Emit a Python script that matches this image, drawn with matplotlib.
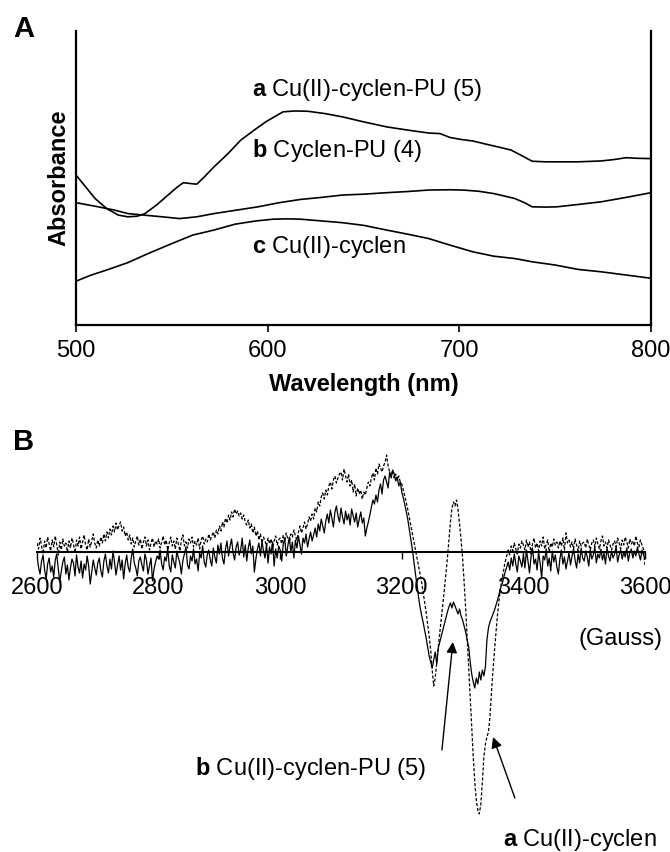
import numpy as np
import matplotlib
matplotlib.use("Agg")
import matplotlib.pyplot as plt

plt.rcParams["font.family"] = ["Liberation Sans", "DejaVu Sans"]
plt.rcParams["mathtext.fontset"] = "custom"
plt.rcParams["mathtext.rm"] = "Liberation Sans"
plt.rcParams["mathtext.bf"] = "Liberation Sans:bold"

# ── PANEL A: UV-vis absorbance (arbitrary units) ─────────────────────────────
wl_a = [500, 505, 510, 516, 522, 527, 532, 536, 542, 548, 553, 556, 560, 563,
        567, 572, 579, 586, 593, 599, 604, 608, 614, 621, 630, 639, 650, 662,
        673, 684, 690, 695, 701, 707, 714, 720, 727, 732, 738, 745, 751, 762,
        774, 781, 787, 793, 800]
abs_a = [0.510, 0.470, 0.430, 0.396, 0.374, 0.368, 0.370, 0.379, 0.408, 0.442,
         0.470, 0.484, 0.481, 0.479, 0.504, 0.538, 0.581, 0.629, 0.663, 0.691,
         0.710, 0.725, 0.728, 0.727, 0.719, 0.708, 0.691, 0.674, 0.663, 0.653,
         0.651, 0.638, 0.631, 0.626, 0.615, 0.606, 0.595, 0.578, 0.557, 0.555,
         0.555, 0.555, 0.558, 0.563, 0.569, 0.567, 0.566]

wl_b = [500, 510, 520, 527, 535, 545, 554, 563, 572, 584, 595, 606, 617, 628,
        639, 650, 662, 673, 684, 695, 702, 710, 718, 724, 729, 734, 738, 745,
        751, 762, 774, 787, 800]
abs_b = [0.416, 0.404, 0.391, 0.379, 0.374, 0.368, 0.362, 0.368, 0.379, 0.391,
         0.402, 0.416, 0.427, 0.434, 0.442, 0.445, 0.450, 0.454, 0.459, 0.460,
         0.459, 0.455, 0.447, 0.438, 0.430, 0.416, 0.402, 0.401, 0.402, 0.410,
         0.419, 0.434, 0.450]

wl_c = [500, 508, 516, 527, 538, 550, 561, 572, 583, 594, 603, 610, 617, 628,
        639, 650, 662, 673, 684, 695, 707, 718, 729, 738, 750, 762, 774, 787, 800]
abs_c = [0.149, 0.170, 0.187, 0.212, 0.244, 0.277, 0.306, 0.323, 0.343, 0.354,
         0.360, 0.361, 0.360, 0.354, 0.348, 0.339, 0.323, 0.309, 0.294, 0.272,
         0.249, 0.234, 0.226, 0.215, 0.204, 0.189, 0.181, 0.170, 0.159]

wl_ticks = [500, 600, 700, 800]

# ── PANEL B: EPR spectra (arbitrary units), 2600-3600 G in 2.5 G steps ───────
epr_pu = [
    # 2600
    -4, -15, -22, -9, -3, -18, -27, -12, -6, -20, -14, -25, -8, -2, -17, -30, -19, -10, -5, -22,
    -13, -28, -16, -7, -11, -24, -3, -15, -21, -9, -26, -12, -18, -4, -14, -32, -20, -8, -16, -23,
    # 2700
    -11, -6, -19, -25, -9, -2, -14, -21, -7, -17, 1, -10, -23, -13, -4, -18, -8, -27, -12, -3,
    -15, -20, -6, 3, -11, -16, -24, -9, -5, -13, -19, -2, -8, -22, -14, -6, -29, -17, -10, -4,
    # 2800
    -7, 2, -12, -18, -5, -9, 4, -14, -20, -3, -10, -16, 1, -6, -11, -22, -8, -2, 5, -13,
    -17, -4, -9, 3, -12, -7, -19, -1, -6, 6, -10, -15, -3, 2, -8, -14, 4, -5, -11, 7,
    # 2900
    -2, 9, -6, -12, 3, 11, -4, 6, 13, -1, -8, 5, 10, -3, 2, 14, -5, 7, -9, 4,
    12, -2, 6, -20, -7, 3, 9, -4, 11, 1, -6, 8, -11, 5, -2, 10, -14, 3, -6, 6,
    # 3000
    2, -9, 8, 13, -4, 6, 15, 0, 10, -6, 12, 4, 16, 7, -2, 14, 9, 18, 5, 13,
    20, 11, 17, 24, 15, 28, 21, 33, 26, 19, 31, 38, 29, 42, 34, 25, 40, 46, 36, 30,
    # 3100
    44, 35, 28, 41, 32, 38, 27, 43, 36, 30, 39, 25, 33, 40, 29, 34, 16, 24, 30, 37,
    45, 52, 48, 57, 50, 62, 68, 58, 72, 76, 70, 64, 80, 74, 82, 78, 71, 75, 66, 70,
    # 3200
    60, 54, 47, 40, 32, 22, 12, 2, -10, -22, -33, -45, -55, -63, -70, -78, -86, -95, -104, -110,
    -116, -108, -100, -112, -96, -90, -84, -78, -72, -66, -60, -55, -51, -56, -50, -54, -58, -62, -57, -64,
    # 3300
    -68, -74, -80, -88, -95, -110, -122, -130, -136, -126, -132, -120, -128, -118, -124, -115, -88, -76, -70, -66,
    -62, -58, -53, -48, -42, -36, -32, -26, -20, -15, -10, -18, -6, -14, -2, -12, -20, -4, -9, -15,
    # 3400
    -3, -16, 2, -9, -21, -5, 4, -12, -7, -18, 0, -11, -26, -4, -8, 3, -14, -6, -19, 1,
    -10, -3, -15, -22, -7, 2, -12, -5, -17, -9, -1, -13, -4, 3, -8, -16, -2, -11, 4, -6,
    # 3500
    -9, 1, -5, -14, 2, -7, -3, 5, -11, -2, -6, 3, -8, -1, -12, 4, -4, -9, 1, -6,
    -2, 5, -10, -3, 2, -7, 0, -5, 4, -9, -1, 3, -6, 1, -4, 5, -2, -8, 2, -3, -6,
]

epr_cu = [
    # 2600
    9, 3, 14, 6, -2, 11, 4, 15, 8, 1, 12, 5, 16, 7, -3, 10, 2, 13, 6, 9,
    0, 11, 4, 14, 8, -1, 12, 6, 15, 3, 10, 17, 7, 2, 13, 5, 11, 18, 9, 4,
    # 2700
    12, 6, 15, 9, 18, 11, 20, 14, 23, 17, 26, 20, 29, 22, 27, 30, 21, 25, 16, 20,
    12, 17, 8, 14, 5, 11, 16, 7, 13, 3, 10, 15, 6, 12, 2, 9, 14, 5, 11, 8,
    # 2800
    13, 4, 10, 16, 7, 12, 2, 9, 15, 6, 11, 3, 14, 8, 1, 12, 17, 6, 10, 4,
    13, 9, 15, 5, 11, 7, 14, 3, 12, 16, 8, 13, 10, 18, 12, 16, 20, 14, 22, 18,
    # 2900
    26, 21, 30, 25, 34, 29, 37, 32, 40, 35, 43, 38, 41, 36, 39, 33, 37, 30, 27, 32,
    24, 28, 19, 25, 16, 21, 12, 18, 9, 15, 11, 6, 14, 8, 13, 4, 11, 16, 7, 12,
    # 3000
    14, 8, 17, 11, 19, 13, 9, 18, 15, 22, 16, 12, 20, 26, 19, 24, 30, 23, 28, 35,
    31, 38, 33, 44, 40, 50, 46, 55, 59, 53, 62, 57, 66, 70, 63, 72, 76, 69, 74, 78,
    # 3100
    80, 72, 83, 76, 70, 78, 66, 72, 60, 68, 56, 64, 58, 62, 53, 60, 57, 64, 70, 66,
    74, 79, 72, 84, 78, 88, 84, 80, 86, 90, 97, 86, 80, 76, 82, 74, 78, 72, 76, 70,
    # 3200
    68, 62, 56, 49, 42, 34, 26, 18, 10, 2, -6, -14, -22, -30, -40, -50, -60, -72, -84, -98,
    -118, -134, -126, -110, -95, -80, -66, -52, -38, -22, -6, 12, 30, 44, 50, 46, 52, 42, 28, 12,
    # 3300
    -6, -30, -56, -85, -115, -145, -175, -205, -230, -248, -258, -262, -252, -230, -205, -192, -185, -180, -165, -140,
    -118, -98, -80, -62, -48, -36, -26, -18, -10, -4, 2, -3, 6, 1, 9, 3, -2, 8, 4, 11,
    # 3400
    7, 2, 12, 5, 10, -2, 8, 14, 4, 9, 1, 11, 6, 15, 3, 8, 12, 0, 9, 5,
    13, 7, 10, 4, 11, 6, 14, 2, 19, 9, 12, 5, 10, 3, 13, 7, 1, 11, 6, 9,
    # 3500
    10, 4, 13, 7, 2, 9, 12, 5, 14, 8, 3, 11, 16, 6, 10, 4, 12, 7, 2, 8,
    11, 5, 14, 9, 3, 12, 7, 15, 10, 4, 13, 8, 11, 6, 16, 9, 5, 12, 7, 3, -14,
]
field_pu = np.linspace(2600, 3600, len(epr_pu))
field_cu = np.linspace(2600, 3600, len(epr_cu))

field_ticks = [2600, 2800, 3000, 3200, 3400, 3600]

# ── FIGURE ────────────────────────────────────────────────────────────────────
W, H = 670, 852
fig = plt.figure(figsize=(W / 100, H / 100), dpi=100)

def px_axes(left, top, right, bottom):
    return fig.add_axes([left / W, 1 - bottom / H, (right - left) / W, (bottom - top) / H])

FS = 17

# Panel A
axA = px_axes(76, 31, 651, 325)
for wl, ab in [(wl_a, abs_a), (wl_b, abs_b), (wl_c, abs_c)]:
    axA.plot(wl, ab, color="black", lw=1.2)
axA.set_xlim(500, 800)
axA.set_ylim(0, 1)
axA.set_xticks(wl_ticks)
axA.set_yticks([])
axA.tick_params(axis="x", direction="out", length=5, width=1.2, pad=6, labelsize=FS)
axA.spines["top"].set_visible(False)
for s in ["left", "right", "bottom"]:
    axA.spines[s].set_linewidth(1.6)
axA.set_xlabel("Wavelength (nm)", fontsize=FS, fontweight="bold", labelpad=8)

axA.text(592, 0.798, r"$\mathbf{a}$ Cu(II)-cyclen-PU (5)", fontsize=FS, va="center")
axA.text(592, 0.595, r"$\mathbf{b}$ Cyclen-PU (4)", fontsize=FS, va="center")
axA.text(592, 0.266, r"$\mathbf{c}$ Cu(II)-cyclen", fontsize=FS, va="center")

fig.text(59 / W, 1 - 178 / H, "Absorbance", rotation=90, fontsize=FS,
         fontweight="bold", ha="center", va="center")
fig.text(13 / W, 1 - 29 / H, "A", fontsize=21, fontweight="bold", va="center")

# Panel B
axB = px_axes(37, 400, 645, 852)
axB.plot(field_cu, epr_cu, color="black", lw=0.9, linestyle=(0, (2.5, 1.5)))
axB.plot(field_pu, epr_pu, color="black", lw=0.9)
axB.set_xlim(2600, 3600)
axB.set_ylim(-300, 152)
for s in ["top", "right", "left"]:
    axB.spines[s].set_visible(False)
axB.spines["bottom"].set_position(("data", 0))
axB.spines["bottom"].set_linewidth(1.5)
axB.set_xticks(field_ticks)
axB.set_yticks([])
axB.tick_params(axis="x", direction="out", length=5, width=1, pad=13, labelsize=FS)
axB.patch.set_visible(False)

axB.text(3559, -87, "(Gauss)", fontsize=FS, ha="center", va="center")
axB.text(2860, -217, r"$\mathbf{b}$ Cu(II)-cyclen-PU (5)", fontsize=FS, va="center")
axB.text(3366, -288, r"$\mathbf{a}$ Cu(II)-cyclen", fontsize=FS, va="center")

arrow = dict(arrowstyle="-|>", color="black", lw=1.0, mutation_scale=16,
             shrinkA=0, shrinkB=0)
axB.annotate("", xy=(3284, -90), xytext=(3266, -198), arrowprops=arrow)
axB.annotate("", xy=(3350, -185), xytext=(3386, -246), arrowprops=arrow)

fig.text(13 / W, 1 - 442 / H, "B", fontsize=21, fontweight="bold", va="center")

fig.savefig("out.png", dpi=100)
